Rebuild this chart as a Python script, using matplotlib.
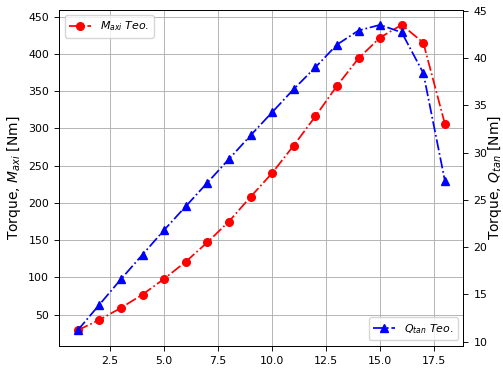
import matplotlib
matplotlib.use("Agg")
import matplotlib.pyplot as plt
from matplotlib.ticker import MultipleLocator

# ---------- DATA ----------
x = [1, 2, 3, 4, 5, 6, 7, 8, 9, 10, 11, 12, 13, 14, 15, 16, 17, 18]
m_axi = [29, 43, 59, 77, 98, 121, 147, 175, 208, 240, 277, 316, 357, 394,
         422, 439, 415, 306]
q_tan = [11.2, 13.9, 16.6, 19.2, 21.8, 24.3, 26.8, 29.3, 31.8, 34.25, 36.7,
         39.0, 41.4, 42.9, 43.5, 42.7, 38.4, 27.0]

# ---------- STYLE ----------
plt.rcParams["font.size"] = 7.9
plt.rcParams["axes.linewidth"] = 0.65
plt.rcParams["xtick.major.width"] = 0.65
plt.rcParams["ytick.major.width"] = 0.65
plt.rcParams["xtick.major.size"] = 3.8
plt.rcParams["ytick.major.size"] = 3.8
plt.rcParams["xtick.major.pad"] = 3.5
plt.rcParams["ytick.major.pad"] = 3.5

# ---------- PLOT ----------
fig = plt.figure(figsize=(5.03, 3.68), dpi=100)
ax1 = fig.add_axes([0.118, 0.061, 0.803, 0.913])

ax1.plot(x, m_axi, "ro-.", lw=1.25, ms=5.5, label=r"$M_{axi}\ Teo.$")
ax1.set_ylabel(r"Torque, $M_{axi}$ [Nm]", fontsize=10)
ax1.yaxis.set_label_coords(-0.09, 0.5)
ax1.yaxis.set_major_locator(MultipleLocator(50))
ax1.grid(True, color="#b0b0b0", linewidth=0.65)
ax1.legend(loc="upper left")

ax2 = ax1.twinx()
ax2.plot(x, q_tan, "b^-.", lw=1.25, ms=5.5, label=r"$Q_{tan}\ Teo.$")
ax2.set_ylabel(r"Torque, $Q_{tan}$ [Nm]", fontsize=10)
ax2.yaxis.set_label_coords(1.056, 0.5)
ax2.legend(loc="lower right")

fig.savefig("out.png", dpi=100)
